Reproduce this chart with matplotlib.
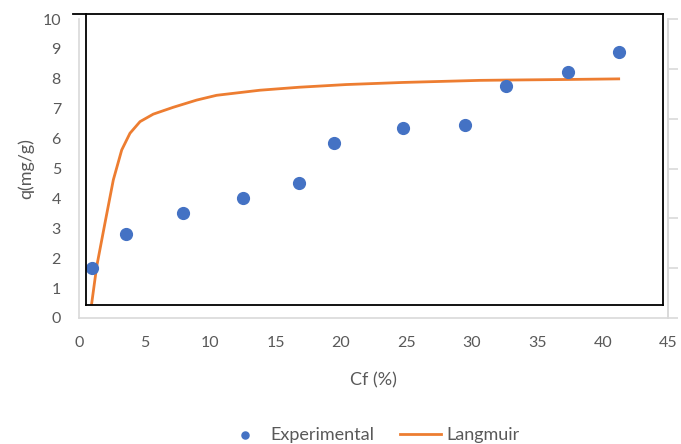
import matplotlib
matplotlib.use("Agg")
import matplotlib.pyplot as plt
from matplotlib.lines import Line2D

plt.rcParams['font.family'] = ['Lato', 'DejaVu Sans']

# experimental points
cf_exp = [1.0, 3.6, 7.94, 12.5, 16.8, 19.5, 24.7, 29.5, 32.6, 37.3, 41.2]
q_exp = [1.67, 2.81, 3.52, 4.01, 4.51, 5.86, 6.36, 6.47, 7.75, 8.24, 8.90]

# Langmuir curve
cf_lang = [0.97, 1.35, 1.98, 2.62, 3.26, 3.89, 4.66, 5.67, 7.2, 8.98, 10.5,
           13.8, 16.8, 20.4, 24.7, 30.6, 32.6, 37.3, 41.2]
q_lang = [0.49, 1.72, 3.17, 4.62, 5.62, 6.18, 6.57, 6.82, 7.05, 7.29, 7.45,
          7.62, 7.72, 7.81, 7.88, 7.95, 7.96, 7.98, 8.0]

gray = "#d9d9d9"
txt = "#595959"

fig = plt.figure(figsize=(6.81, 4.44), dpi=100)
ax = fig.add_axes([0.116, 0.2838, 0.8656, 0.6732])

ax.scatter(cf_exp, q_exp, s=72, color="#4472C4", label="Experimental", zorder=3)
ax.plot(cf_lang, q_lang, color="#ED7D31", lw=2.0, label="Langmuir", zorder=2)

ax.set_xlim(0, 45)
ax.set_ylim(0, 10)
ax.set_xticks(range(0, 46, 5))
ax.set_yticks(range(0, 11))
ax.tick_params(length=0, labelsize=11.5, labelcolor=txt)
ax.tick_params(axis='x', pad=13)
ax.tick_params(axis='y', pad=13)
ax.spines['top'].set_visible(False)
for s in ['left', 'bottom', 'right']:
    ax.spines[s].set_color(gray)
    ax.spines[s].set_linewidth(1.2)

ax.set_xlabel("Cf (%)", fontsize=13, color=txt, labelpad=16)
ax.set_ylabel("q(mg/g)", fontsize=13, color=txt, labelpad=6)

# secondary axis on the right, ticks only
ax2 = ax.twinx()
ax2.set_ylim(0, 6)
ax2.set_yticks(range(0, 7))
ax2.set_yticklabels([])
ax2.tick_params(axis='y', length=7, color=gray, width=1.2)
for s in ['top', 'left', 'bottom']:
    ax2.spines[s].set_visible(False)
ax2.spines['right'].set_color(gray)
ax2.spines['right'].set_linewidth(1.2)

# black box drawn over the chart
x0, x1 = 86 / 681, 663 / 681
y0, y1 = 1 - 305 / 444, 1 - 14 / 444
fig.add_artist(Line2D([73 / 681, x1], [y1, y1], color="black", lw=1.3, transform=fig.transFigure))
fig.add_artist(Line2D([x0, x0], [y0, y1], color="black", lw=1.3, transform=fig.transFigure))
fig.add_artist(Line2D([x0, x1], [y0, y0], color="black", lw=1.3, transform=fig.transFigure))
fig.add_artist(Line2D([x1, x1], [y0, y1], color="black", lw=1.3, transform=fig.transFigure))

h1, l1 = ax.get_legend_handles_labels()
fig.legend(h1, l1, loc='center', bbox_to_anchor=(0.546, 0.02), ncol=2,
           frameon=False, fontsize=13, labelcolor=txt, columnspacing=1.4,
           handlelength=2.3, handletextpad=0.25, markerscale=0.6,
           borderpad=0, borderaxespad=0)

plt.savefig("out.png", dpi=100)
